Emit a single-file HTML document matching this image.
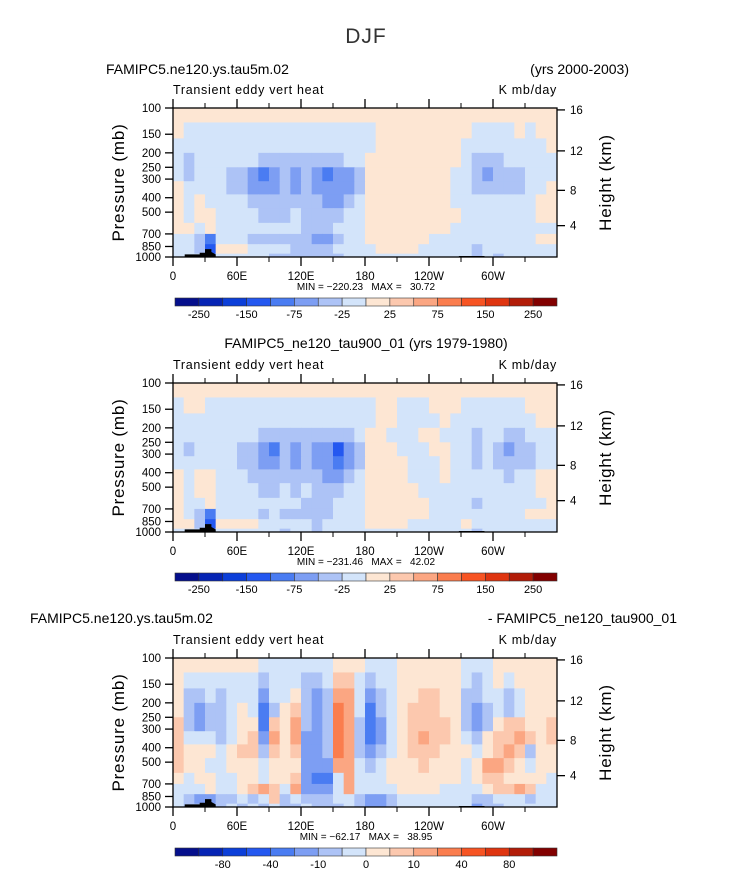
<!DOCTYPE html>
<html><head><meta charset="utf-8"><style>
html,body{margin:0;padding:0;background:#fff;}
svg{display:block;font-family:"Liberation Sans",sans-serif;}
.pre{white-space:pre;}
</style></head><body>
<svg id="chart" width="733" height="888" viewBox="0 0 733 888" xmlns="http://www.w3.org/2000/svg"></svg>
<script>
// ---- data ----
const lonCenters = [5,15,25,35,45,55,65,75,85,95,105,115,125,135,145,155,165,175,185,195,205,215,225,235,245,255,265,275,285,295,305,315,325,335,345,355];
const pressureEdges = [100,125,160,200,250,310,380,470,590,700,820,950,1000];
const pressureTicks = [100,150,200,250,300,400,500,700,850,1000];
const heightTicks = [16,12,8,4];
const heightTickPressures = [103,194,357,616];
const lonTicks = [0,60,120,180,240,300];
const lonTickLabels = ["0","60E","120E","180","120W","60W"];
const lonMinorTicks = [30,90,150,210,270,330];
const levels12 = [-250,-200,-150,-100,-75,-50,-25,0,25,50,75,100,150,200,250];
const levelLabels12 = ["-250","","-150","","-75","","-25","","25","","75","","150","","250"];
const levels3 = [-100,-80,-60,-40,-20,-10,-5,0,5,10,20,40,60,80,100];
const levelLabels3 = ["","-80","","-40","","-10","","0","","10","","40","","80",""];
const colors = ["#050f8c","#0624b4","#0c3fd9","#2458f0","#4a7cf2","#7d9ef3","#adc3f6","#d3e4fa","#fde6d3","#fcc8ae","#fba682","#fa7d4e","#f75423","#df3510","#b21c08","#820000"];
const topoLon = [11,25,25,30,30,36,36,40];
const topoP = [960,960,935,935,885,885,925,960];
const topo2Lon = [268,292];
const topo2P = [985,985];

const panel1 = [
[5,5,5,5,5,5,5,5,5,5,5,5,5,5,5,5,5,5,5,5,5,5,5,5,5,5,5,5,5,5,5,5,5,5,5,5],
[5,-10,-10,-10,-10,-10,-10,-10,-10,-10,-10,-10,-10,-10,-10,-10,-10,-10,-10,5,5,5,5,5,5,5,5,5,-10,-10,-10,-10,5,-10,5,5],
[-10,-10,-10,-10,-10,-10,-10,-10,-10,-10,-10,-10,-10,-10,-10,-10,-10,-10,-10,5,5,5,5,5,5,5,5,-10,-10,-10,-10,-10,-10,-10,-10,5],
[-10,-30,-10,-10,-10,-10,-10,-10,-30,-30,-30,-30,-30,-30,-30,-30,-10,-10,5,5,5,5,5,5,5,5,5,-10,-30,-30,-30,-10,-10,-10,-10,-10],
[-10,-30,-10,-10,-10,-30,-30,-60,-80,-60,-30,-60,-30,-60,-80,-60,-60,-30,5,5,5,5,5,5,5,5,-10,-10,-30,-60,-30,-30,-30,-10,-10,-10],
[5,-10,-10,-10,-10,-30,-30,-60,-60,-60,-30,-60,-30,-60,-60,-60,-60,-30,5,5,5,5,5,5,5,5,-10,-10,-30,-30,-30,-30,-30,-10,-10,5],
[5,-10,5,-10,-10,-10,-10,-30,-30,-30,-30,-30,-30,-30,-60,-60,-30,-10,5,5,5,5,5,5,5,5,-10,-10,-10,-10,-10,-10,-10,-10,5,5],
[5,-10,5,5,-10,-10,-10,-10,-30,-30,-30,-10,-30,-30,-30,-30,-10,-10,5,5,5,5,5,5,5,5,5,-10,-10,-10,-10,-10,-10,-10,5,5],
[5,5,-10,5,-10,-10,-10,-10,-10,-10,-10,-10,-30,-30,-30,-10,-10,-10,5,5,5,5,5,5,5,5,-10,-10,-10,-10,-10,-10,-10,-10,-10,-10],
[-10,-10,-30,-80,-10,-10,-10,-30,-30,-30,-30,-30,-30,-60,-60,-30,-10,-10,5,5,5,5,5,5,-10,-10,-10,-10,-10,-10,-10,-10,-10,-10,5,5],
[-10,-10,-30,-120,5,5,5,-10,-10,-10,-10,-30,-30,-30,-30,-10,-10,-10,-10,5,5,5,5,-10,-10,-10,-10,-10,-30,-10,-10,-10,-10,-10,-10,-10],
[-10,-10,-10,-60,-10,-10,-10,-10,-10,-30,-30,-30,-30,-30,-30,-30,-10,-10,-10,-10,-10,-10,-10,-10,-10,-10,-10,-10,-30,-10,-30,-10,-10,-10,-10,-10]];

const panel2 = [
[5,5,5,5,5,5,5,5,5,5,5,5,5,5,5,5,5,5,5,5,5,5,5,5,5,5,5,5,5,5,5,5,5,5,5,5],
[-10,5,5,-10,-10,-10,-10,-10,-10,-10,-10,-10,-10,-10,-10,-10,-10,-10,-10,5,5,-10,-10,-10,5,5,5,-10,-10,-10,-10,-10,-10,5,5,5],
[-10,-10,-10,-10,-10,-10,-10,-10,-10,-10,-10,-10,-10,-10,-10,-10,-10,-10,-10,5,5,-10,-10,-10,-10,5,-10,-10,-10,-10,-10,-10,-10,-10,5,5],
[-10,-10,-10,-10,-10,-10,-10,-10,-30,-30,-30,-30,-30,-30,-30,-30,-30,-10,5,5,-10,-10,-10,5,5,-10,-10,-10,-30,-10,-10,-30,-30,-10,-10,-10],
[-10,-30,-10,-10,-10,-10,-30,-30,-60,-80,-30,-60,-30,-60,-60,-120,-60,-30,5,5,5,-10,-10,-10,5,5,-10,-10,-30,-10,-30,-60,-30,-30,-10,-10],
[-10,-10,-10,-10,-10,-10,-30,-30,-60,-60,-30,-60,-30,-60,-60,-80,-60,-30,5,5,5,5,-10,-10,-10,5,-10,-10,-30,-10,-30,-30,-30,-30,-10,-10],
[5,-10,5,5,-10,-10,-10,-30,-30,-30,-30,-30,-30,-30,-60,-60,-30,-10,5,5,5,5,-10,-10,-10,5,-10,-10,-10,-10,-10,-30,-10,-10,5,5],
[5,-10,5,5,-10,-10,-10,-10,-30,-30,-10,-30,-10,-30,-30,-30,-10,-10,5,5,5,5,5,-10,-10,-10,-10,-10,-10,-10,-10,-10,-10,-10,5,5],
[5,-10,-10,5,-10,-10,-10,-10,-10,-10,-10,-10,-30,-30,-30,-10,-10,-10,5,5,5,5,5,5,-10,-10,-10,-10,-30,-10,-10,-10,-10,-10,-10,5],
[5,-10,-30,-80,-10,-10,-10,-10,-30,-10,-30,-30,-30,-30,-30,-10,-10,-10,5,5,5,5,5,5,-10,-10,-10,-10,-10,-10,-10,-10,-10,5,5,5],
[5,5,-30,-120,5,5,5,5,-10,-10,-10,-10,-10,-30,-10,-10,-10,-10,5,5,5,5,-10,-10,-10,-10,-10,5,-10,-10,-10,-10,-10,-10,-10,-10],
[-10,-10,-10,-30,-10,-10,-10,-10,-10,-10,-30,-10,-10,-30,-10,-10,-10,-10,-10,-10,-10,-10,-10,-10,-10,-10,-10,-10,-30,-10,-10,-10,-10,-10,-10,-10]];

const panel3 = [
[2,2,2,2,2,2,2,2,-3,-3,-3,-3,-3,-3,-3,2,2,2,-3,-3,-3,2,2,2,2,2,2,-3,-3,-3,2,2,2,2,2,2],
[2,-3,-3,-3,-3,-3,-3,-3,-7,-3,-3,-3,-7,-7,-3,7,7,-3,-7,-3,-3,2,2,2,2,2,2,-3,-7,-3,2,-3,2,2,2,2],
[2,-7,-7,-3,-7,-3,-3,-3,-15,-3,-3,2,-7,-15,-7,15,15,-3,-15,-7,-3,2,2,7,7,2,2,-7,-7,-3,-3,-7,-3,2,2,2],
[2,-7,-15,-7,-7,-3,2,-3,-30,-7,2,7,-7,-15,-7,30,15,-3,-30,-7,-3,2,7,7,7,2,2,-7,-15,-7,-3,-7,-3,2,2,2],
[7,-7,-15,-7,-7,-3,2,2,-30,7,2,15,-7,-15,-7,30,15,-7,-30,-15,-3,2,7,7,7,7,2,-7,-15,-7,2,7,7,2,2,7],
[7,-3,-3,-3,-7,-3,2,7,-15,15,2,15,-15,-15,-7,30,15,-7,-30,-15,-3,2,7,15,7,7,2,-3,-7,2,7,7,15,7,2,7],
[7,2,2,2,-3,2,7,7,-7,7,2,7,-15,-15,-7,30,15,-7,-15,-7,-3,2,7,7,7,2,2,2,-3,2,7,15,7,-7,2,2],
[7,2,2,-3,-3,2,2,2,-3,2,2,2,-15,-15,-15,15,15,-3,-7,-3,2,2,2,7,2,2,2,-3,2,15,15,7,2,-3,2,2],
[2,-3,2,2,-3,-3,2,2,-3,2,2,7,-15,-30,-30,-3,15,-3,-3,-3,2,2,2,2,2,2,2,-3,2,7,7,2,2,2,2,-3],
[-3,-3,-3,2,-3,-3,2,7,15,7,-3,15,-15,-15,-15,-3,15,-3,-3,-3,-3,2,2,2,2,-3,-3,-3,-3,2,7,7,15,7,-3,-3],
[-3,-7,-15,-15,-7,-7,-3,-7,-3,7,-7,-3,-7,-7,-7,-3,-3,-7,-15,-15,-7,-3,-3,-3,-3,-3,-3,-3,-7,-7,-3,-3,-3,-7,-3,-3],
[-3,-7,-7,-7,-7,-3,-7,-3,-7,-3,-7,-7,-3,-7,-7,-7,-3,-7,-15,-15,-7,-3,-3,-3,-3,-3,-3,-3,-15,-7,-7,-3,-3,-3,-3,-3]];

// ---- drawing ----
const NS = "http://www.w3.org/2000/svg";
const svg = document.getElementById('chart');
const X0 = 173, X1 = 557;
function mk(tag, attrs, parent){ const e=document.createElementNS(NS,tag); for(const k in attrs) e.setAttribute(k,attrs[k]); (parent||svg).appendChild(e); return e; }
function txt(s, x, y, size, anchor, parent, extra){ const t=mk('text',Object.assign({x:x,y:y,'font-size':size,'text-anchor':anchor||'start',fill:'#000'},extra||{}),parent); t.textContent=s; return t; }
function xScale(lon){ return X0 + lon/360*(X1-X0); }
function classOf(v, lev){ let i=0; while(i<lev.length && v>=lev[i]) i++; return i; }

function drawPanel(cfg){
  const top=cfg.top, H=149;
  const yScale = p => top + (Math.log10(p)-2)*H;
  const g = mk('g',{});  
  const cells = mk('g',{},g);  
  const dlon = 10;
  cfg.data.forEach((row,ri)=>{
    const y0=yScale(pressureEdges[ri]), y1=yScale(pressureEdges[ri+1]);
    row.forEach((v,ci)=>{
      const xa=xScale(lonCenters[ci]-dlon/2), xb=xScale(lonCenters[ci]+dlon/2);
      const r = mk('rect',{x:xa.toFixed(2),y:y0.toFixed(2),width:(xb-xa+0.4).toFixed(2),height:(y1-y0+0.4).toFixed(2),fill:colors[classOf(v,cfg.levels)]},cells);
      
      
    });
  });
  let pts = topoLon.map((l,i)=>xScale(l).toFixed(1)+','+yScale(topoP[i]).toFixed(1)).join(' ');
  pts += ' '+xScale(topoLon[topoLon.length-1]).toFixed(1)+','+yScale(1000)+' '+xScale(topoLon[0]).toFixed(1)+','+yScale(1000);
  const tp = mk('polygon',{points:pts,fill:'#000'},g);
   
  const tl = mk('rect',{x:xScale(topo2Lon[0]),y:yScale(topo2P[0]),width:xScale(topo2Lon[1])-xScale(topo2Lon[0]),height:yScale(1000)-yScale(topo2P[0])+0.5,fill:'#000'},g);
   
  const fr = mk('rect',{x:X0,y:top,width:X1-X0,height:H,fill:'none',stroke:'#000','stroke-width':1.3},g);
   
  const xa = mk('g',{},g);  
  lonTicks.forEach((l,i)=>{
    const x=xScale(l);
    mk('line',{x1:x,x2:x,y1:top+H,y2:top+H+9,stroke:'#000','stroke-width':1.3},xa);
    mk('line',{x1:x,x2:x,y1:top,y2:top-9,stroke:'#000','stroke-width':1.3},xa);
    const t=txt(lonTickLabels[i],x,top+H+23,11.5,'middle',xa);
     
  });
  lonMinorTicks.forEach(l=>{
    const x=xScale(l);
    mk('line',{x1:x,x2:x,y1:top+H,y2:top+H+5,stroke:'#000','stroke-width':1},xa);
    mk('line',{x1:x,x2:x,y1:top,y2:top-5,stroke:'#000','stroke-width':1},xa);
  });
  const ya = mk('g',{},g);  
  pressureTicks.forEach(p=>{
    const y=yScale(p);
    mk('line',{x1:X0-8,x2:X0,y1:y,y2:y,stroke:'#000','stroke-width':1.3},ya);
    const t=txt(String(p),X0-12,y+4,11.5,'end',ya);
     
  });
  const yt = txt('Pressure (mb)',0,0,17,'middle',g,{transform:`translate(124,${top+H/2}) rotate(-90)`,'letter-spacing':'0.8'});
   
  const ha = mk('g',{},g);  
  heightTicks.forEach((h,i)=>{
    const y=yScale(heightTickPressures[i]);
    mk('line',{x1:X1,x2:X1+8,y1:y,y2:y,stroke:'#000','stroke-width':1.3},ha);
    const t=txt(String(h),X1+13,y+4,11.5,'start',ha);
     
  });
  const ht = txt('Height (km)',0,0,17,'middle',g,{transform:`translate(611,${top+H/2}) rotate(-90)`,'letter-spacing':'0.8'});
   
  const s1=txt('Transient eddy vert heat',X0,top-14,12.5,'start',g,{'letter-spacing':'0.7'});  
  const s2=txt('K mb/day',X1,top-14,12.5,'end',g,{'letter-spacing':'0.7'});  
  const mm=txt(cfg.minmax,366,top+H+33,10,'middle',g,{'class':'pre'});  
  const cb = mk('g',{},g);  
  const cy = top+190, bw=(557-175)/16;
  colors.forEach((c,i)=>{
    const r=mk('rect',{x:175+i*bw,y:cy,width:bw,height:8,fill:c,stroke:'#333','stroke-width':0.6},cb);
     
  });
  cfg.labels.forEach((s,i)=>{
    if(!s) return;
    const t=txt(s,175+(i+1)*bw,cy+20,11,'middle',cb);
     
  });
}

const tt = txt('DJF',366,43,21,'middle',svg,{fill:'#333','letter-spacing':'1'});
 
let t;
t=txt('FAMIPC5.ne120.ys.tau5m.02',106,74,14,'start');  
t=txt('(yrs 2000-2003)',629,74,14,'end');  
t=txt('FAMIPC5_ne120_tau900_01 (yrs 1979-1980)',366,348,14,'middle');  
t=txt('FAMIPC5.ne120.ys.tau5m.02',30,623,14,'start');  
t=txt('- FAMIPC5_ne120_tau900_01',677,623,14,'end');  

drawPanel({name:'panel-test-case',top:108,data:panel1,levels:levels12,labels:levelLabels12,minmax:'MIN = \u2212220.23   MAX =   30.72'});
drawPanel({name:'panel-control-case',top:383,data:panel2,levels:levels12,labels:levelLabels12,minmax:'MIN = \u2212231.46   MAX =   42.02'});
drawPanel({name:'panel-difference',top:658,data:panel3,levels:levels3,labels:levelLabels3,minmax:'MIN = \u221262.17   MAX =   38.95'});
</script>
</body></html>
